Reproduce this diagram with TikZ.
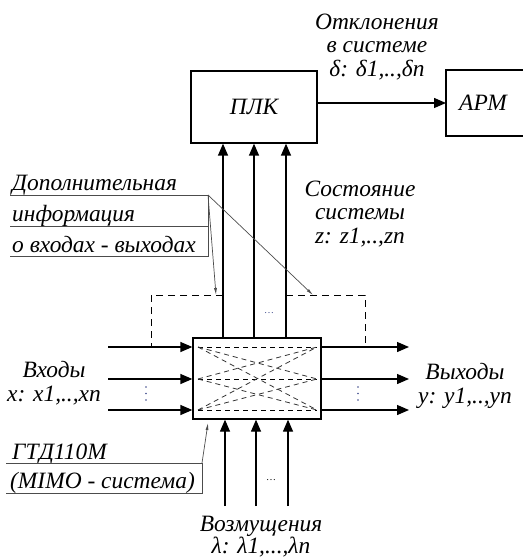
\documentclass[tikz,border=0pt]{standalone}
\usepackage{fontspec}
\setmainfont{Liberation Serif}[ItalicFont={Liberation Serif Italic}]
\usetikzlibrary{arrows.meta}
\definecolor{dotblue}{rgb}{0.25,0.3,0.55}
\definecolor{thingray}{rgb}{0.3,0.3,0.3}
\begin{document}
\begin{tikzpicture}[x=1bp,y=-1bp,
  every node/.style={font=\fontsize{23.5}{24}\selectfont\itshape, inner sep=0pt},
  main/.style={line width=1.3bp},
  arr/.style={main,-{Triangle[length=12bp,width=10bp]}},
  thinline/.style={line width=0.7bp,draw=thingray},
  lead/.style={line width=0.7bp,draw=thingray,-{Latex[length=7bp,width=3bp]}},
  outerdash/.style={line width=0.8bp,dash pattern=on 7bp off 5bp},
  innerdash/.style={line width=0.8bp,dash pattern=on 5bp off 4bp},
  blk/.style={draw,main,align=center}]
\useasboundingbox (0,0) rectangle (523,560);

% blocks
\node[blk,minimum width=126bp,minimum height=72bp] (plk) at (254,107) {ПЛК};
\node[blk,minimum width=128bp,minimum height=81bp] (sys) at (257,378.5) {};
\node (apm) at (483,103) {АРМ};
\coordinate (apmw) at (446,103);
\draw[main] (523,70) -- (446,70) -- (446,136) -- (523,136);

% plk -> apm
\draw[arr] (plk.east |- apmw) -- (apmw);

% inputs
\coordinate (i1) at (108,347);
\coordinate (i2) at (108,379);
\coordinate (i3) at (108,410);
\foreach \c in {i1,i2,i3} \draw[arr] (\c) -- (\c -| sys.west);

% outputs
\coordinate (o1) at (409,347);
\coordinate (o2) at (409,379);
\coordinate (o3) at (409,410);
\foreach \c in {o1,o2,o3} \draw[arr] (\c -| sys.east) -- (\c);

% state lines to PLK
\coordinate (t1) at (223,338);
\coordinate (t2) at (254,338);
\coordinate (t3) at (286,338);
\foreach \c in {t1,t2,t3} \draw[arr] (\c) -- (\c |- plk.south);

% disturbances
\coordinate (b1) at (225,506);
\coordinate (b2) at (256,506);
\coordinate (b3) at (288,506);
\foreach \c in {b1,b2,b3} \draw[arr] (\c) -- (\c |- sys.south);

% inner dashed cross connections
\foreach \ya in {347,379,410}{
  \foreach \yb in {347,379,410}{
    \ifnum\ya=\yb
      \draw[innerdash,black] (198,\ya) -- (317,\yb);
    \else
      \draw[innerdash,black!80] (198,\ya) -- (317,\yb);
    \fi
  }
}

% outer dashed frame
\coordinate (dl) at (151,295);
\coordinate (dr) at (365,295);
\draw[outerdash] (t1 |- dl) -- (dl) -- (dl |- i1);
\draw[outerdash] (t3 |- dr) -- (dr) -- (dr |- o1);

% dots
\node[text=dotblue,font=\normalsize] (dtop) at (269,313) {\dots};
\node[font=\normalsize] (dbot) at (271,480) {\dots};
\foreach \x in {146,358}
  \foreach \y in {387,393.5,400}
    \fill[dotblue] (\x,\y) circle (0.9bp);

% labels
\node[align=center] (otk) at (377,47) {Отклонения\\в системе\\δ: δ1,..,δn};
\node[align=center] (sost) at (360,214) {Состояние\\системы\\z: z1,..,zn};
\node[align=center] (vx) at (54,383) {Входы\\x: x1,..,xn};
\node[align=center] (vyx) at (465,386) {Выходы\\y: y1,..,yn};
\node[align=center,font=\fontsize{23.5}{22}\selectfont\itshape] (voz) at (261,537) {Возмущения\\λ: λ1,...,λn};

% annotation: additional information
\node[anchor=base west] (dop1) at (12,191) {Дополнительная};
\node[anchor=base west] (dop2) at (12,222) {информация};
\node[anchor=base west] (dop3) at (12,252) {о входах - выходах};
\coordinate (ua) at (208,195);
\draw[thinline] (10,195) -- (ua);
\draw[thinline] (10,226) -- (208,226);
\draw[thinline] (10,256) -- (208,256) -- (ua);
\coordinate (la) at (216,295);
\coordinate (lb) at (313,295);
\draw[lead] (ua) -- (la);
\draw[lead] (ua) -- (lb);

% annotation: GTD110M
\node[anchor=base west] (gtd1) at (12,459) {ГТД110М};
\node[anchor=base west] (gtd2) at (10,488) {(МIМО - система)};
\coordinate (ug) at (202,463);
\draw[thinline] (6,463) -- (ug);
\draw[thinline] (6,493) -- (202,493) -- (ug);
\coordinate (lg) at (208,423);
\draw[lead] (ug) -- (lg);
\end{tikzpicture}
\end{document}
